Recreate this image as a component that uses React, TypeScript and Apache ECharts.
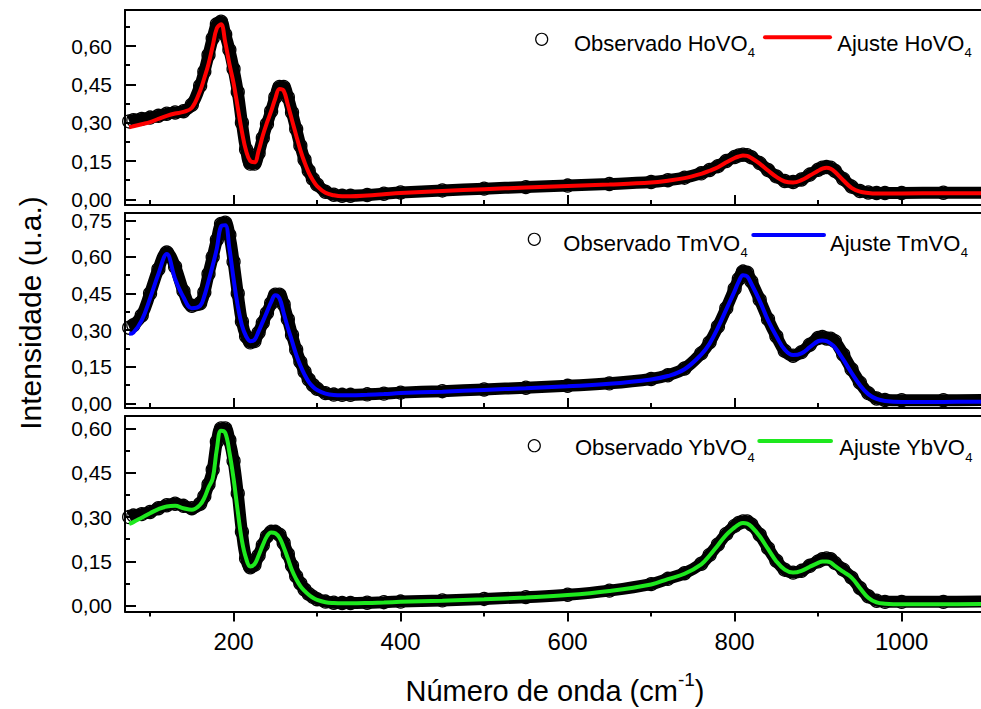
import React, { useEffect, useRef } from "react";
import * as echarts from "echarts";

// Wavenumber grid (cm-1) shared by all three spectra
const wavenumber = [
  75, 80, 90, 100, 110, 120, 130, 140, 150, 160,
  165, 170, 175, 180, 185, 190, 195, 200, 205, 210,
  215, 220, 225, 230, 235, 240, 245, 250, 255, 260,
  265, 270, 275, 280, 285, 290, 295, 300, 310, 320,
  330, 340, 360, 380, 400, 450, 500, 550, 600, 650,
  700, 720, 740, 760, 770, 780, 790, 800, 805, 810,
  815, 820, 830, 840, 850, 860, 870, 880, 890, 900,
  905, 910, 915, 920, 930, 940, 950, 960, 970, 980,
  1000, 1050, 1100,
];

// HoVO4
const observedHo = [
  0.305, 0.31, 0.315, 0.32, 0.327, 0.335, 0.34, 0.345, 0.37, 0.445,
  0.5, 0.565, 0.63, 0.685, 0.695, 0.645, 0.585, 0.51, 0.42, 0.3,
  0.195, 0.14, 0.14, 0.18, 0.24, 0.295, 0.345, 0.4, 0.44, 0.44,
  0.4, 0.34, 0.275, 0.21, 0.155, 0.112, 0.08, 0.058, 0.03, 0.018,
  0.014, 0.014, 0.017, 0.022, 0.027, 0.035, 0.042, 0.048, 0.054, 0.06,
  0.068, 0.075, 0.085, 0.102, 0.115, 0.13, 0.15, 0.166, 0.172, 0.175,
  0.173, 0.165, 0.142, 0.115, 0.09, 0.072, 0.068, 0.078, 0.097, 0.116,
  0.124, 0.127, 0.124, 0.112, 0.08, 0.05, 0.033, 0.027, 0.025, 0.025,
  0.025, 0.026, 0.026,
];
const fitHo = [
  0.282, 0.286, 0.294, 0.302, 0.315, 0.327, 0.336, 0.342, 0.358, 0.425,
  0.475, 0.53, 0.6, 0.67, 0.685, 0.615, 0.53, 0.455, 0.36, 0.265,
  0.19, 0.15, 0.145, 0.19, 0.25, 0.3, 0.345, 0.395, 0.432, 0.425,
  0.37, 0.31, 0.25, 0.193, 0.145, 0.105, 0.075, 0.052, 0.026, 0.016,
  0.012, 0.012, 0.015, 0.02, 0.025, 0.033, 0.04, 0.046, 0.052, 0.058,
  0.066, 0.073, 0.083, 0.1, 0.112, 0.126, 0.145, 0.162, 0.168, 0.172,
  0.17, 0.162, 0.14, 0.113, 0.088, 0.07, 0.066, 0.075, 0.093, 0.112,
  0.12, 0.124, 0.12, 0.108, 0.075, 0.045, 0.03, 0.025, 0.023, 0.023,
  0.023, 0.024, 0.024,
];

// TmVO4
const observedTm = [
  0.31, 0.32, 0.36, 0.45, 0.55, 0.618, 0.56, 0.46, 0.4, 0.41,
  0.455, 0.53, 0.6, 0.67, 0.735, 0.74, 0.69, 0.58, 0.45, 0.335,
  0.275, 0.25, 0.255, 0.29, 0.33, 0.37, 0.41, 0.445, 0.445, 0.405,
  0.345, 0.28, 0.22, 0.17, 0.13, 0.098, 0.075, 0.06, 0.042, 0.036,
  0.035, 0.035, 0.037, 0.04, 0.044, 0.05, 0.057, 0.064, 0.072, 0.082,
  0.1, 0.115, 0.143, 0.205, 0.25, 0.315, 0.39, 0.47, 0.51, 0.54,
  0.535, 0.5, 0.425, 0.345, 0.275, 0.215, 0.195, 0.21, 0.24, 0.268,
  0.272, 0.266, 0.265, 0.255, 0.2, 0.14, 0.085, 0.042, 0.02, 0.014,
  0.013, 0.013, 0.014,
];
const fitTm = [
  0.285, 0.29, 0.34, 0.43, 0.53, 0.612, 0.51, 0.435, 0.39, 0.4,
  0.44, 0.5, 0.565, 0.635, 0.725, 0.73, 0.635, 0.51, 0.4, 0.32,
  0.275, 0.255, 0.26, 0.295, 0.335, 0.375, 0.415, 0.443, 0.43, 0.37,
  0.31, 0.255, 0.2, 0.155, 0.118, 0.088, 0.068, 0.055, 0.04, 0.034,
  0.033, 0.033, 0.035, 0.038, 0.042, 0.048, 0.055, 0.062, 0.07, 0.08,
  0.098, 0.112, 0.14, 0.2, 0.245, 0.31, 0.385, 0.46, 0.5, 0.525,
  0.52, 0.49, 0.42, 0.34, 0.275, 0.22, 0.198, 0.205, 0.23, 0.255,
  0.258, 0.255, 0.245, 0.23, 0.18, 0.125, 0.075, 0.038, 0.018, 0.01,
  0.006, 0.006, 0.007,
];

// YbVO4
const observedYb = [
  0.3, 0.305, 0.31, 0.317, 0.33, 0.34, 0.345, 0.338, 0.33, 0.345,
  0.37, 0.41, 0.46, 0.555, 0.6, 0.6, 0.56, 0.49, 0.38, 0.25,
  0.16, 0.13, 0.138, 0.17, 0.205, 0.235, 0.25, 0.25, 0.24, 0.212,
  0.175, 0.135, 0.1, 0.075, 0.055, 0.04, 0.03, 0.022, 0.014, 0.01,
  0.009, 0.009, 0.01, 0.012, 0.014, 0.018, 0.023, 0.029, 0.037, 0.051,
  0.073, 0.091, 0.11, 0.142, 0.172, 0.207, 0.243, 0.27, 0.28, 0.285,
  0.285, 0.275, 0.24, 0.195, 0.152, 0.122, 0.112, 0.118, 0.135, 0.15,
  0.157, 0.16, 0.157, 0.145, 0.122, 0.095, 0.06, 0.032, 0.017, 0.013,
  0.013, 0.013, 0.014,
];
const fitYb = [
  0.277, 0.283, 0.298, 0.313, 0.327, 0.336, 0.338, 0.33, 0.325, 0.342,
  0.365, 0.4, 0.43, 0.53, 0.592, 0.585, 0.52, 0.43, 0.32, 0.22,
  0.16, 0.133, 0.14, 0.17, 0.205, 0.235, 0.248, 0.245, 0.23, 0.198,
  0.16, 0.12, 0.09, 0.066, 0.05, 0.037, 0.027, 0.02, 0.012, 0.009,
  0.008, 0.008, 0.009, 0.011, 0.013, 0.017, 0.022, 0.028, 0.036, 0.05,
  0.072, 0.09, 0.108, 0.14, 0.17, 0.205, 0.24, 0.265, 0.275, 0.28,
  0.278, 0.268, 0.235, 0.192, 0.15, 0.122, 0.112, 0.118, 0.132, 0.145,
  0.15, 0.15, 0.146, 0.135, 0.115, 0.095, 0.06, 0.027, 0.011, 0.007,
  0.005, 0.005, 0.006,
];

// Tick positions
const xMajorTicks = [200, 400, 600, 800, 1000];
const xMinorTicks = [100, 300, 500, 700, 900];
const yMajorTicksHo = [0, 0.15, 0.3, 0.45, 0.6];
const yMinorTicksHo = [0.075, 0.225, 0.375, 0.525, 0.675];
const yMajorTicksTm = [0, 0.15, 0.3, 0.45, 0.6, 0.75];
const yMinorTicksTm = [0.075, 0.225, 0.375, 0.525, 0.675];
const yMajorTicksYb = [0, 0.15, 0.3, 0.45, 0.6];
const yMinorTicksYb = [0.075, 0.225, 0.375, 0.525];

const FONT = "Liberation Sans";
const X_MIN = 70;
const X_MAX = 1095;
const GRID_LEFT = 125;

const panels = [
  {
    compound: "HoVO", color: "#ff0000", observed: observedHo, fit: fitHo,
    yMajor: yMajorTicksHo, yMinor: yMinorTicksHo,
    top: 10, height: 195, yMin: -0.022, yMax: 0.741,
    lg: { cx: 541.7, cy: 39.3, tx: 574, ty: 43.3, lx1: 765, lx2: 830, ly: 37.3, t2x: 837.3 },
  },
  {
    compound: "TmVO", color: "#0000ff", observed: observedTm, fit: fitTm,
    yMajor: yMajorTicksTm, yMinor: yMinorTicksTm,
    top: 213, height: 195, yMin: -0.019, yMax: 0.78,
    lg: { cx: 534.3, cy: 239.3, tx: 563.3, ty: 243.3, lx1: 753.3, lx2: 824, ly: 235, t2x: 830 },
  },
  {
    compound: "YbVO", color: "#1ee81e", observed: observedYb, fit: fitYb,
    yMajor: yMajorTicksYb, yMinor: yMinorTicksYb,
    top: 416, height: 195.5, yMin: -0.0196, yMax: 0.642,
    lg: { cx: 534.3, cy: 445.7, tx: 575, ty: 447.5, lx1: 759.3, lx2: 831, ly: 441, t2x: 839.3 },
  },
];

const black = "#000";

function subscriptText(main: string, sub: string, x: number, y: number) {
  return {
    type: "text",
    x,
    y,
    silent: true,
    style: {
      text: `{m|${main}}{s|${sub}}`,
      textAlign: "left",
      textVerticalAlign: "middle",
      fill: black,
      rich: {
        m: { fontSize: 22, fontFamily: FONT, lineHeight: 32, verticalAlign: "middle", fill: black },
        s: { fontSize: 13, fontFamily: FONT, lineHeight: 13, verticalAlign: "bottom", fill: black },
      },
    },
  };
}

export default function App() {
  const ref = useRef<HTMLDivElement>(null);

  useEffect(() => {
    if (!ref.current) return;
    const chart = echarts.init(ref.current, undefined, { renderer: "svg" });

    const grid = panels.map((p) => ({
      left: GRID_LEFT,
      right: 0,
      top: p.top,
      height: p.height,
      containLabel: false,
      outerBoundsMode: "none",
    }));

    const xAxis: any[] = [];
    const yAxis: any[] = [];
    const series: any[] = [];
    const graphic: any[] = [];

    panels.forEach((p, g) => {
      const isBottom = g === panels.length - 1;
      const base = {
        type: "value",
        gridIndex: g,
        min: X_MIN,
        max: X_MAX,
        splitLine: { show: false },
      };
      // frame bottom + major ticks (+ labels on the lowest panel)
      xAxis.push({
        ...base,
        position: "bottom",
        axisLine: { show: true, onZero: false, lineStyle: { color: black, width: 2 } },
        axisTick: {
          show: true, inside: !isBottom, length: 10, customValues: xMajorTicks,
          lineStyle: { color: black, width: 2 },
        },
        axisLabel: {
          show: isBottom, customValues: xMajorTicks, fontSize: 24, fontFamily: FONT,
          color: black, margin: 18,
          formatter: (v: number) => String(Math.round(v)),
        },
      });
      // minor ticks
      xAxis.push({
        ...base,
        position: "bottom",
        axisLine: { show: false, onZero: false },
        axisTick: {
          show: true, inside: !isBottom, length: 5, customValues: xMinorTicks,
          lineStyle: { color: black, width: 2 },
        },
        axisLabel: { show: false },
      });
      // frame top
      xAxis.push({
        ...base,
        position: "top",
        axisLine: { show: true, onZero: false, lineStyle: { color: black, width: 2 } },
        axisTick: { show: false },
        axisLabel: { show: false },
      });

      const yBase = {
        type: "value",
        gridIndex: g,
        min: p.yMin,
        max: p.yMax,
        position: "left",
        splitLine: { show: false },
      };
      yAxis.push({
        ...yBase,
        axisLine: { show: true, onZero: false, lineStyle: { color: black, width: 2 } },
        axisTick: {
          show: true, inside: true, length: 11, customValues: p.yMajor,
          lineStyle: { color: black, width: 2 },
        },
        axisLabel: {
          customValues: p.yMajor, fontSize: 21, fontFamily: FONT, color: black, margin: 13,
          formatter: (v: number) => v.toFixed(2).replace(".", ","),
        },
      });
      yAxis.push({
        ...yBase,
        axisLine: { show: false, onZero: false },
        axisTick: {
          show: true, inside: true, length: 5, customValues: p.yMinor,
          lineStyle: { color: black, width: 2 },
        },
        axisLabel: { show: false },
      });

      series.push({
        name: `Observado ${p.compound}4`,
        type: "line",
        xAxisIndex: 3 * g,
        yAxisIndex: 2 * g,
        data: wavenumber.map((x, i) => [x, p.observed[i]]),
        smooth: 0.4,
        symbol: "circle",
        symbolSize: 13,
        showSymbol: true,
        showAllSymbol: true,
        itemStyle: { color: "rgba(0,0,0,0)", borderColor: black, borderWidth: 1.3 },
        lineStyle: { color: black, width: 12 },
        silent: true,
        z: 2,
      });
      series.push({
        name: `Ajuste ${p.compound}4`,
        type: "line",
        xAxisIndex: 3 * g,
        yAxisIndex: 2 * g,
        data: wavenumber.map((x, i) => [x, p.fit[i]]),
        smooth: 0.4,
        symbol: "none",
        lineStyle: { color: p.color, width: 4 },
        silent: true,
        z: 3,
      });

      // per-panel legend
      const lg = p.lg;
      graphic.push({
        type: "circle",
        silent: true,
        shape: { cx: lg.cx, cy: lg.cy, r: 6 },
        style: { fill: "none", stroke: black, lineWidth: 1.2 },
      });
      graphic.push(subscriptText(`Observado ${p.compound}`, "4", lg.tx, lg.ty));
      graphic.push({
        type: "line",
        silent: true,
        shape: { x1: lg.lx1, y1: lg.ly, x2: lg.lx2, y2: lg.ly },
        style: { stroke: p.color, lineWidth: 4, lineCap: "round" },
      });
      graphic.push(subscriptText(`Ajuste ${p.compound}`, "4", lg.t2x, lg.ty));
    });

    // axis titles
    graphic.push({
      type: "text",
      x: 30,
      y: 313,
      rotation: Math.PI / 2,
      silent: true,
      style: {
        text: "Intensidade (u.a.)",
        fontSize: 30,
        fontFamily: FONT,
        fill: black,
        textAlign: "center",
        textVerticalAlign: "middle",
      },
    });
    graphic.push({
      type: "text",
      x: 555,
      y: 691,
      silent: true,
      style: {
        text: "{m|Número de onda (cm}{p|-1}{m|)}",
        textAlign: "center",
        textVerticalAlign: "middle",
        fill: black,
        rich: {
          m: { fontSize: 29, fontFamily: FONT, lineHeight: 42, verticalAlign: "middle", fill: black },
          p: { fontSize: 19, fontFamily: FONT, lineHeight: 19, verticalAlign: "top", fill: black },
        },
      },
    });

    chart.setOption({
      animation: false,
      backgroundColor: "#fff",
      textStyle: { fontFamily: FONT },
      grid,
      xAxis,
      yAxis,
      series,
      graphic,
    });

    return () => chart.dispose();
  }, []);

  return (
    <div
      ref={ref}
      style={{ position: "absolute", left: 0, top: 0, width: 981, height: 709 }}
    />
  );
}
